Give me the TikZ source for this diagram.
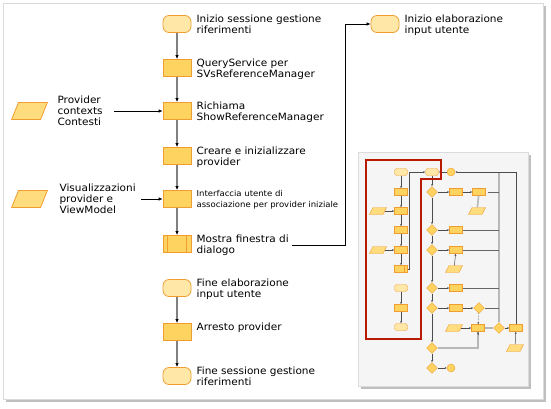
\documentclass[tikz,border=0pt]{standalone}
\usepackage{fontspec}
\setmainfont{DejaVu Sans}[FakeStretch=1.05]
\usetikzlibrary{arrows.meta,shapes.geometric,positioning}
\definecolor{boxfill}{RGB}{255,211,95}
\definecolor{boxline}{RGB}{240,158,50}
\definecolor{termfill}{RGB}{255,231,168}
\definecolor{datafill}{RGB}{255,220,125}
\definecolor{outline}{RGB}{185,25,0}
\begin{document}
\begin{tikzpicture}[x=1pt,y=-1pt,
    proc/.style={rectangle,draw=boxline,fill=boxfill,line width=0.8pt,minimum width=28pt,minimum height=17pt,inner sep=0pt},
    term/.style={proc,rounded corners=6pt,fill=termfill},
    data/.style={trapezium,trapezium left angle=68,trapezium right angle=112,draw=boxline,fill=datafill,line width=0.8pt,inner xsep=11pt,inner ysep=8.5pt},
    lbl/.style={anchor=north west,inner sep=0pt,align=left,font=\fontsize{10}{11}\selectfont},
    flow/.style={draw=black!50,line width=1.6pt,-{Latex[black,length=4pt,width=3.5pt]}},
    feed/.style={draw=black,line width=0.6pt,-{Latex[length=4pt,width=3.5pt]}},
    tproc/.style={rectangle,draw=boxline,fill=boxfill,line width=0.4pt,minimum width=13pt,minimum height=7pt,inner sep=0pt},
    tterm/.style={tproc,rounded corners=2.5pt,fill=termfill},
    tdata/.style={trapezium,trapezium left angle=63,trapezium right angle=117,draw=boxline,fill=datafill,line width=0.4pt,inner xsep=5pt,inner ysep=3.5pt},
    tdec/.style={diamond,draw=boxline,fill=boxfill,line width=0.4pt,minimum width=11pt,minimum height=11pt,inner sep=0pt},
    tend/.style={circle,draw=boxline,fill=boxfill,line width=0.4pt,minimum size=8pt,inner sep=0pt},
    tarr/.style={draw=black!70,line width=0.5pt,-{Latex[length=2pt,width=2pt]}},
    tline/.style={draw=black!60,line width=0.5pt},
    tbar/.style={draw=black!28,line width=1.6pt}]
\useasboundingbox (0,0) rectangle (551,408);
% frame
\fill[black!25] (6,6) rectangle (546,402);
\draw[black!14,fill=white] (3,3) rectangle (543,399);

% main flow
\node[term] (s0) at (177,24) {};
\node[proc] (q) at (177,68) {};
\node[proc] (r) at (177,111) {};
\node[proc] (c) at (177,156) {};
\node[proc] (i) at (177,199) {};
\node[proc] (m) at (177,244) {};
\draw[boxline,line width=0.8pt] ([xshift=5pt]m.north west) -- ([xshift=5pt]m.south west)
    ([xshift=-5pt]m.north east) -- ([xshift=-5pt]m.south east);
\node[term] (fe) at (177,288) {};
\node[proc] (a) at (177,332) {};
\node[term] (fs) at (177,376) {};
\node[term] (ie) at (385,24) {};
\node[data] (d1) at (29.5,111) {};
\node[data] (d2) at (29.5,199) {};

\node[lbl] (ls0) at ([xshift=5pt]s0.north east) {Inizio sessione gestione\\riferimenti};
\node[lbl] (lq) at ([xshift=5pt]q.north east) {QueryService per\\SVsReferenceManager};
\node[lbl] (lr) at ([xshift=5pt]r.north east) {Richiama\\ShowReferenceManager};
\node[lbl] (lc) at ([xshift=5pt]c.north east) {Creare e inizializzare\\provider};
\node[lbl,font=\fontsize{8.1}{11}\selectfont] (li) at ([xshift=5pt]i.north east) {Interfaccia utente di\\associazione per provider iniziale};
\node[lbl] (lm) at ([xshift=5pt]m.north east) {Mostra finestra di\\dialogo};
\node[lbl] (lfe) at ([xshift=5pt]fe.north east) {Fine elaborazione\\input utente};
\node[lbl] (la) at ([xshift=5pt]a.north east) {Arresto provider};
\node[lbl] (lfs) at ([xshift=5pt]fs.north east) {Fine sessione gestione\\riferimenti};
\node[lbl] (lie) at ([xshift=5pt]ie.north east) {Inizio elaborazione\\input utente};
\node[lbl,anchor=west] (ld1) at ([xshift=13pt]d1.east) {Provider\\contexts\\Contesti};
\node[lbl,anchor=west] (ld2) at ([xshift=15pt]d2.east) {Visualizzazioni\\provider e\\ViewModel};

\draw[flow] (s0) -- (q);
\draw[flow] (q) -- (r);
\draw[flow] (r) -- (c);
\draw[flow] (c) -- (i);
\draw[flow] (i) -- (m);
\draw[flow] (fe) -- (a);
\draw[flow] (a) -- (fs);
\coordinate (f1) at (114,111);
\coordinate (f2) at (141,199);
\coordinate (bend) at (345,24);
\draw[feed] (f1) -- (r);
\draw[feed] (f2) -- (i);
\draw[feed] ([xshift=3pt]lm.east) -| (bend) -- (ie);

% overview
\fill[black!25] (361,155) rectangle (531,389);
\draw[black!14,fill=black!4] (358,152) rectangle (528,386);
\node[tterm] (ta) at (401,172) {};
\node[tproc] (tb) at (401,192) {};
\node[tproc] (tc) at (401,211) {};
\node[tproc] (td) at (401,230) {};
\node[tproc] (te) at (401,250) {};
\node[tproc] (tf) at (401,269) {};
\draw[boxline,line width=0.4pt] ([xshift=10pt]tf.north west) -- ([xshift=10pt]tf.south west);
\node[tterm] (tg) at (401,288) {};
\node[tproc] (th) at (401,308) {};
\node[tterm] (tk) at (401,327) {};
\node[tdata] (tpa) at (378,211) {};
\node[tdata] (tpb) at (378,250) {};
\draw[tarr] (ta) -- (tb);
\draw[tarr] (tb) -- (tc);
\draw[tarr] (tc) -- (td);
\draw[tarr] (td) -- (te);
\draw[tarr] (te) -- (tf);
\draw[tarr] (tg) -- (th);
\draw[tarr] (th) -- (tk);
\draw[tarr] (tpa) -- (tc);
\draw[tarr] (tpb) -- (te);

\node[tterm] (tj) at (432,172) {};
\node[tend] (tz1) at (451,172) {};
\node[tdec] (q1) at (432,192) {};
\node[tdec] (q2) at (432,230) {};
\node[tdec] (q3) at (432,250) {};
\node[tdec] (q4) at (432,288) {};
\node[tdec] (q5) at (432,308) {};
\node[tdec] (q6) at (432,348) {};
\node[tdec] (q7) at (432,368) {};
\node[tend] (tz2) at (451,368) {};
\node[tproc] (p1) at (456,192) {};
\node[tproc] (p2) at (479,192) {};
\node[tproc] (p3) at (456,230) {};
\node[tproc] (p4) at (456,250) {};
\node[tproc] (p5) at (456,288) {};
\node[tproc] (p6) at (456,308) {};
\node[tdec] (q8) at (479,308) {};
\node[tproc] (p7) at (478,328) {};
\node[tdec] (q9) at (499,328) {};
\node[tproc] (p8) at (516,328) {};
\node[tdata] (pc) at (477,211) {};
\node[tdata] (pd) at (454,269) {};
\node[tdata] (pe) at (454,328) {};
\node[tdata] (pf) at (515,348) {};

\coordinate (bar) at (499,172);
\draw[tbar] (bar) -- (q9);
\draw[tbar] (pc) -- (p2);
\draw[tbar] (q6) -| (p7);
\draw[tarr] ([yshift=-2pt]p7.south) -- (p7);
\draw[tbar] (p7) -- (q9);
\draw[tarr] (p8.north) |- (tz1);
\draw[tarr] (tz1) -- (tj);
\draw[tarr] (tf) -- ++(8,0) |- (tj);
\draw[tarr] (tj) -- (q1);
\draw[tarr] (q1) -- (q2);
\draw[tarr] (q2) -- (q3);
\draw[tarr] (q3) -- (q4);
\draw[tarr] (q4) -- (q5);
\draw[tarr] (q5) -- (q6);
\draw[tarr] (q6) -- (q7);
\draw[tarr] (q7) -- (tz2);
\draw[tarr] (q1) -- (p1);
\draw[tarr] (p1) -- (p2);
\draw[tarr] (q2) -- (p3);
\draw[tarr] (q3) -- (p4);
\draw[tarr] (q4) -- (p5);
\draw[tarr] (q5) -- (p6);
\draw[tarr] (p6) -- (q8);
\draw[tarr,densely dotted] (q8) -- (p7);
\draw[tarr] (pd) -- (p4);
\draw[tarr] (pe) -- (p7);
\draw[tarr] (q9) -- (p8);
\draw[tarr] (pf) -- (p8);
\draw[tline] ([xshift=2pt]p2.east) -- (p2.east -| bar);
\draw[tline] (p3) -- (p3 -| bar);
\draw[tline] (p4) -- (p4 -| bar);
\draw[tline] (p5) -- (p5 -| bar);
\draw[tline] (q8) -- (q8 -| bar);
\draw[outline,line width=1.6pt] (366,160) -- (441,160) -- (441,179) -- (421,179) -- (421,339) -- (366,339) -- cycle;
\end{tikzpicture}
\end{document}
